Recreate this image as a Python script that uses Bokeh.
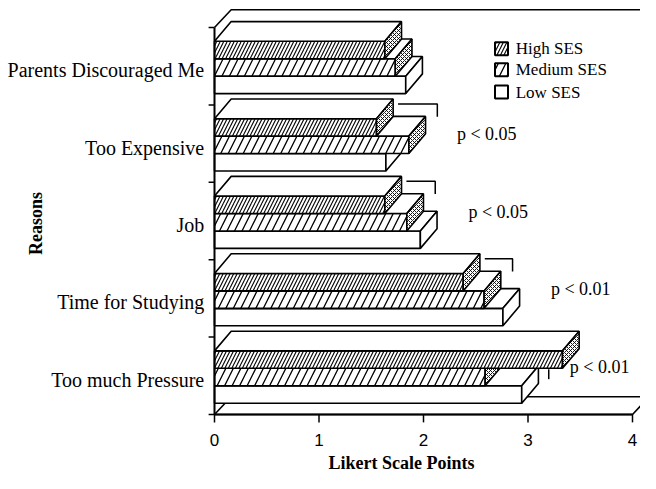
import math
from bokeh.plotting import figure
from bokeh.models import ColumnDataSource
from bokeh.core.properties import value
from bokeh.embed import file_html
from bokeh.resources import INLINE

# ---------------- data ----------------
categories = ["Parents Discouraged Me", "Too Expensive", "Job",
              "Time for Studying", "Too much Pressure"]
series_names = ["High SES", "Medium SES", "Low SES"]
high_ses = [1.63, 1.55, 1.63, 2.38, 3.33]
medium_ses = [1.73, 1.86, 1.84, 2.58, 2.59]
low_ses = [1.83, 1.64, 1.97, 2.76, 2.94]
p_labels = ["", "p < 0.05", "p < 0.05", "p < 0.01", "p < 0.01"]
x_ticks = [0, 1, 2, 3, 4]
x_tick_labels = ["0", "1", "2", "3", "4"]
x_title = "Likert Scale Points"
y_title = "Reasons"

# ---------------- geometry ----------------
W, H = 640, 473
X0, SX = 214.0, 104.5      # figure px of x=0, px per Likert point
Y0, SY = 414.0, 77.4       # figure px (from top) of y=0, px per category band
x_start, x_end = -X0 / SX, (W - X0) / SX
y_start, y_end = -(H - Y0) / SY, Y0 / SY
# reference-pixel to data-unit conversion factors
PX, PY = 1.0 / 106.5, 1.0 / 78.6

n = len(categories)
DX, DY, DYF = 17 * PX, 20 * PY, 18 * PY
TOP_OFF, BAR_H = 14 * PY, 17.7 * PY
SERIF = value("Liberation Serif")
SANS = value("Liberation Sans")

p = figure(width=W, height=H, x_range=(x_start, x_end), y_range=(y_start, y_end),
           x_axis_type=None, y_axis_type=None, min_border=0,
           toolbar_location=None, output_backend="svg")
p.grid.visible = False
p.outline_line_color = None
p.background_fill_color = "white"

LW = 1.6
xmax = x_ticks[-1]

# floor of the 3D plot
p.patch([0, xmax, xmax + DX, DX], [0, 0, DYF, DYF], fill_color="white",
        line_color="black", line_width=LW)
# top edge of back wall
p.line([0, DX, x_end + 1], [n, n + DYF, n + DYF], line_color="black", line_width=LW)

values = [high_ses, medium_ses, low_ses]
front_style = [
    dict(hatch_pattern="/", hatch_scale=7, hatch_weight=1.1, hatch_color="black"),
    dict(hatch_pattern="/", hatch_scale=15, hatch_weight=1.3, hatch_color="black"),
    dict(),
]
side_style = [
    dict(hatch_pattern="x", hatch_scale=4, hatch_weight=0.9, hatch_color="black"),
    dict(hatch_pattern="x", hatch_scale=4, hatch_weight=0.9, hatch_color="black"),
    dict(),
]

geom = {}
for k in [2, 1, 0]:  # Low first, High last
    vals = values[k]
    yt = [(n - i) - TOP_OFF - k * BAR_H for i in range(n)]
    yb = [t - BAR_H for t in yt]
    geom[k] = (yt, yb)
    src = ColumnDataSource(dict(
        left=[0] * n, right=vals, top=yt, bottom=yb,
        txs=[[0, v, v + DX, DX] for v in vals],
        tys=[[t, t, t + DY, t + DY] for t in yt],
        sxs=[[v, v, v + DX, v + DX] for v in vals],
        sys=[[b, t, t + DY, b + DY] for b, t in zip(yb, yt)],
    ))
    p.quad(left="left", right="right", top="top", bottom="bottom", source=src,
           fill_color="white", line_color="black", line_width=LW, **front_style[k])
    p.patches("txs", "tys", source=src, fill_color="white", line_color="black",
              line_width=LW)
    p.patches("sxs", "sys", source=src, fill_color="white", line_color="black",
              line_width=LW, **side_style[k])

# significance brackets and labels
for i in range(n):
    if not p_labels[i]:
        continue
    vh, vm, vl = high_ses[i], medium_ses[i], low_ses[i]
    yt_h = geom[0][0][i]
    yb_h = geom[0][1][i]
    if vm >= vh:
        by = yt_h + DY - 5 * PY
        xs_ = vh + DX + 5 * PX
        xe_ = vm + DX + 12 * PX
        p.line([xs_, xe_, xe_], [by, by, by - 13 * PY], line_color="black", line_width=1.5)
    else:
        xt = vh - 14 * PX
        p.line([xt, xt], [yb_h - 1 * PY, yb_h - 11 * PY], line_color="black", line_width=1.5)
    p.text(x=[max(vm, vl) + DX + 0.3], y=[(n - i) - 30 * PY], text=[p_labels[i]],
           text_align="left", text_baseline="middle", text_font=SERIF,
           text_font_size="18px", text_color="black")

# left axis
p.line([0, 0], [0, n], line_color="black", line_width=2)
p.segment(x0=[-6 * PX] * (n + 1), y0=list(range(n + 1)), x1=[0] * (n + 1),
          y1=list(range(n + 1)), line_color="black", line_width=1.5)
# bottom axis
p.line([0, xmax], [0, 0], line_color="black", line_width=2)
p.segment(x0=x_ticks, y0=[0] * len(x_ticks), x1=x_ticks,
          y1=[-8 * PY] * len(x_ticks), line_color="black", line_width=1.5)
p.text(x=x_ticks, y=[-26 * PY] * len(x_ticks), text=x_tick_labels,
       text_align="center", text_baseline="middle", text_font=SANS,
       text_font_size="17px", text_color="black")
p.text(x=[190.5 * PX], y=[-49 * PY], text=[x_title], text_align="center",
       text_baseline="middle", text_font=SERIF, text_font_style="bold",
       text_font_size="18px", text_color="black")

# category labels
p.text(x=[-10.5 * PX] * n, y=[(n - i) - 0.5 - 4 * PY for i in range(n)],
       text=categories, text_align="right", text_baseline="middle",
       text_font=SERIF, text_font_size="20px", text_color="black")
p.text(x=[-181.5 * PX], y=[194 * PY], text=[y_title], angle=math.pi / 2,
       text_align="center", text_baseline="middle", text_font=SERIF,
       text_font_style="bold", text_font_size="18px", text_color="black")

# legend
leg_y = [(420 - 48.5) * PY, (420 - 70) * PY, (420 - 92.5) * PY]
for k in range(3):
    p.rect(x=[292.5 * PX], y=[leg_y[k]], width=13, height=13,
           width_units="screen", height_units="screen", fill_color="white",
           line_color="black", line_width=2, **front_style[k])
p.text(x=[307 * PX] * 3, y=leg_y, text=series_names, text_align="left",
       text_baseline="middle", text_font=SERIF, text_font_size="17px",
       text_color="black")

open("out.html", "w").write(file_html(p, INLINE))
